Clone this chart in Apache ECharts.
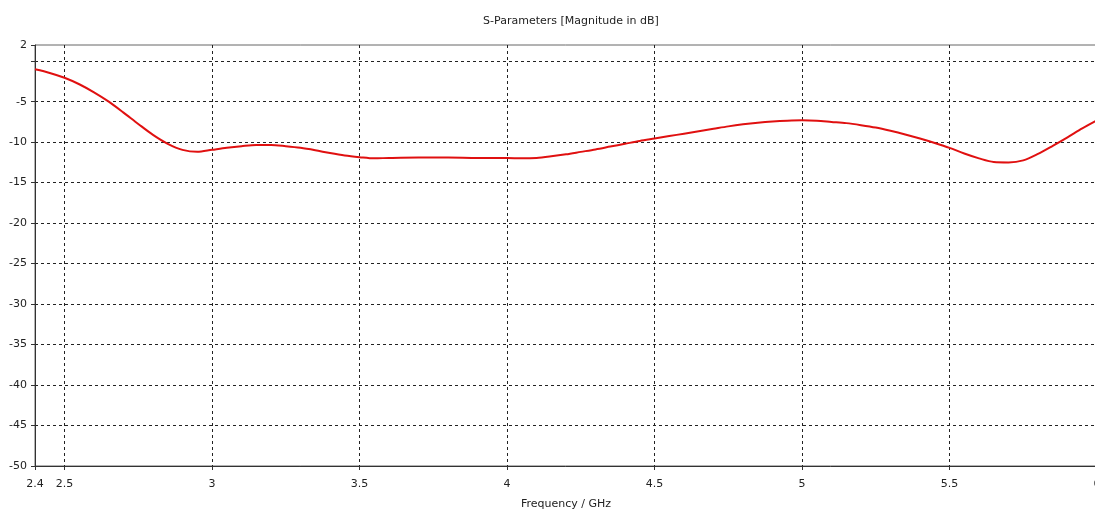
<!DOCTYPE html>
<html>
<head>
<meta charset="utf-8">
<script src="https://cdn.jsdelivr.net/npm/echarts@6/dist/echarts.min.js"></script>
<style>
  html, body { margin: 0; padding: 0; background: #fff; }
  #chart { width: 1095px; height: 512px; }
</style>
</head>
<body>
<div id="chart"></div>
<script>
// Frequency sweep (GHz) and reflection magnitude (dB)
const freqGHz = [
  2.40, 2.45, 2.50, 2.55, 2.60, 2.65, 2.70, 2.75, 2.80, 2.85,
  2.90, 2.95, 3.00, 3.05, 3.10, 3.15, 3.20, 3.25, 3.30, 3.35,
  3.40, 3.45, 3.50, 3.55, 3.60, 3.70, 3.80, 3.90, 4.00, 4.05,
  4.10, 4.15, 4.20, 4.25, 4.30, 4.35, 4.40, 4.45, 4.50, 4.55,
  4.60, 4.65, 4.70, 4.75, 4.80, 4.85, 4.90, 4.95, 5.00, 5.05,
  5.10, 5.15, 5.20, 5.25, 5.30, 5.35, 5.40, 5.45, 5.50, 5.55,
  5.60, 5.65, 5.70, 5.75, 5.80, 5.85, 5.90, 5.95, 6.00
];
const s11dB = [
  -1.0, -1.45, -2.05, -2.85, -3.85, -5.0, -6.35, -7.75, -9.1, -10.2,
  -10.95, -11.2, -10.95, -10.7, -10.5, -10.35, -10.35, -10.5, -10.7, -11.0,
  -11.35, -11.65, -11.85, -12.0, -11.95, -11.9, -11.9, -11.95, -11.95, -12.0,
  -11.95, -11.75, -11.5, -11.2, -10.9, -10.55, -10.2, -9.85, -9.55, -9.25,
  -8.95, -8.65, -8.35, -8.05, -7.8, -7.6, -7.45, -7.35, -7.3, -7.35,
  -7.5, -7.65, -7.9, -8.2, -8.6, -9.05, -9.55, -10.1, -10.7, -11.4,
  -12.0, -12.45, -12.5, -12.25, -11.45, -10.45, -9.4, -8.3, -7.3
];

// Axis tick positions
const xTicks = [2.4, 2.5, 3, 3.5, 4, 4.5, 5, 5.5, 6];

const fontFamily = '"DejaVu Sans", sans-serif';
const gridDash = { color: '#222', width: 1, type: [3, 3] };

const chart = echarts.init(document.getElementById('chart'), null, { renderer: 'canvas' });

chart.setOption({
  animation: false,
  backgroundColor: '#ffffff',
  title: {
    text: 'S-Parameters [Magnitude in dB]',
    left: 566,
    textAlign: 'center',
    top: 11,
    textStyle: { fontFamily, fontSize: 11, fontWeight: 'normal', color: '#222' }
  },
  grid: {
    left: 35, right: -2, top: 45, bottom: 46,
    outerBoundsMode: 'none',
    containLabel: false,
    show: true, borderColor: '#666', borderWidth: 1, backgroundColor: '#fff'
  },
  xAxis: {
    type: 'value',
    min: 2.4, max: 6,
    name: 'Frequency / GHz',
    nameLocation: 'middle',
    nameGap: 33,
    nameTextStyle: { fontFamily, fontSize: 11, color: '#222' },
    axisLine: { onZero: false, lineStyle: { color: '#333', width: 1 } },
    axisTick: { show: true, length: 4, lineStyle: { color: '#333' }, customValues: xTicks },
    axisLabel: { fontFamily, fontSize: 11, color: '#222', margin: 13, customValues: xTicks,
      formatter: v => String(v) },
    splitLine: { show: true, showMinLine: false, lineStyle: gridDash }
  },
  yAxis: {
    type: 'value',
    min: -50, max: 2, interval: 5,
    axisLine: { show: true, onZero: false, lineStyle: { color: '#333', width: 1 } },
    axisTick: { show: true, length: 4, lineStyle: { color: '#333' } },
    axisLabel: { fontFamily, fontSize: 11, color: '#222', margin: 8,
      formatter: v => (v === 0 ? '' : String(v)) },
    splitLine: { show: true, showMaxLine: false, showMinLine: false, lineStyle: gridDash }
  },
  series: [{
    type: 'line',
    data: freqGHz.map((f, i) => [f, s11dB[i]]),
    smooth: 0.3,
    showSymbol: false,
    lineStyle: { color: '#e01010', width: 2 },
    z: 5
  }]
});
</script>
</body>
</html>
